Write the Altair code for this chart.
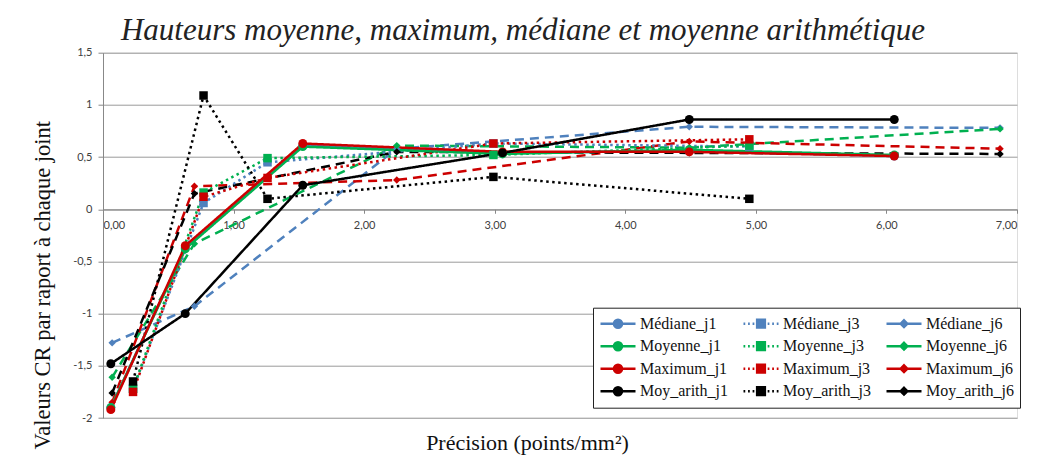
import altair as alt
import pandas as pd

# ---------------- data ----------------
MEASURES = ["Médiane", "Moyenne", "Maximum", "Moy_arith"]
DAYS = ["j1", "j3", "j6"]

X_J1 = [0.06, 0.63, 1.53, 3.06, 4.49, 6.06]
X_J3 = [0.23, 0.77, 1.26, 2.99, 4.95]
X_J6 = [0.07, 0.70, 2.25, 4.49, 6.87]

MEDIANE_J1 = [-1.90, -0.37, 0.61, 0.54, 0.56, 0.51]
MOYENNE_J1 = [-1.90, -0.38, 0.60, 0.53, 0.57, 0.52]
MAXIMUM_J1 = [-1.92, -0.35, 0.63, 0.55, 0.55, 0.51]
MOYARITH_J1 = [-1.48, -1.00, 0.23, 0.54, 0.86, 0.86]

MEDIANE_J3 = [-1.72, 0.06, 0.45, 0.63, 0.60]
MOYENNE_J3 = [-1.72, 0.16, 0.49, 0.52, 0.61]
MAXIMUM_J3 = [-1.75, 0.12, 0.30, 0.63, 0.67]
MOYARITH_J3 = [-1.65, 1.09, 0.10, 0.31, 0.10]

MEDIANE_J6 = [-1.28, -0.93, 0.58, 0.79, 0.78]
MOYENNE_J6 = [-1.61, -0.33, 0.61, 0.59, 0.77]
MAXIMUM_J6 = [-1.85, 0.22, 0.28, 0.65, 0.58]
MOYARITH_J6 = [-1.76, 0.15, 0.55, 0.54, 0.53]

COLORS = ["#4F81BD", "#00B050", "#CC0000", "#000000"]

# drawing order: j6 first, j1 last (on top)
SERIES = [
    ("Médiane", "j6", X_J6, MEDIANE_J6),
    ("Moyenne", "j6", X_J6, MOYENNE_J6),
    ("Maximum", "j6", X_J6, MAXIMUM_J6),
    ("Moy_arith", "j6", X_J6, MOYARITH_J6),
    ("Médiane", "j3", X_J3, MEDIANE_J3),
    ("Moyenne", "j3", X_J3, MOYENNE_J3),
    ("Maximum", "j3", X_J3, MAXIMUM_J3),
    ("Moy_arith", "j3", X_J3, MOYARITH_J3),
    ("Médiane", "j1", X_J1, MEDIANE_J1),
    ("Moyenne", "j1", X_J1, MOYENNE_J1),
    ("Maximum", "j1", X_J1, MAXIMUM_J1),
    ("Moy_arith", "j1", X_J1, MOYARITH_J1),
]

rows = []
for m, d, xs, ys in SERIES:
    for xv, yv in zip(xs, ys):
        rows.append({"measure": m, "day": d, "series": f"{m}_{d}", "x": xv, "y": yv})
df = pd.DataFrame(rows)

# legend is filled column by column: column 1 = j1, column 2 = j3, column 3 = j6
LEGEND_ORDER = [f"{m}_{d}" for d in DAYS for m in MEASURES]
LEGEND_COLORS = [COLORS[MEASURES.index(s.rsplit("_", 1)[0])] for s in LEGEND_ORDER]

LINE_SOLID = "M-1,0L1,0"
LINE_DOTTED = "M-1,0L-0.9,0M-0.74,0L-0.64,0M-0.48,0L-0.38,0M0.38,0L0.48,0M0.64,0L0.74,0M0.9,0L1,0"
PATH_CIRCLE = LINE_SOLID + "M-0.23,0A0.23,0.23 0 1,1 0.23,0A0.23,0.23 0 1,1 -0.23,0Z"
PATH_SQUARE = LINE_DOTTED + "M-0.22,-0.22L0.22,-0.22L0.22,0.22L-0.22,0.22Z"
PATH_DIAMOND = LINE_SOLID + "M0,-0.19L0.19,0L0,0.19L-0.19,0Z"
LEGEND_SHAPES = [{"j1": PATH_CIRCLE, "j3": PATH_SQUARE, "j6": PATH_DIAMOND}[s[-2:]] for s in LEGEND_ORDER]

W = 914
H = 365.3
ZERO_OFFSET = -H * 2.0 / 3.5

SERIF = "Liberation Serif"
TICKFONT = "Lato"

x_enc = alt.X(
    "x:Q",
    scale=alt.Scale(domain=[0, 7], nice=False, zero=False),
    axis=alt.Axis(
        values=[0, 1, 2, 3, 4, 5, 6, 7],
        labelExpr="replace(format(datum.value, '.2f'), '.', ',')",
        offset=ZERO_OFFSET,
        grid=False,
        domainColor="#888888",
        tickColor="#888888",
        tickSize=4,
        labelPadding=6,
        labelFont=TICKFONT,
        labelFontSize=11,
        labelColor="#404040",
        title="Précision (points/mm²)",
        titleFont=SERIF,
        titleFontSize=22,
        titleFontWeight="normal",
        titleColor="#111111",
        titleX=424,
        titleY=240,
        titleBaseline="alphabetic",
        titleAlign="center",
    ),
)
y_enc = alt.Y(
    "y:Q",
    scale=alt.Scale(domain=[-2, 1.5], nice=False, zero=False),
    axis=alt.Axis(
        values=[-2, -1.5, -1, -0.5, 0, 0.5, 1, 1.5],
        labelExpr="replace(toString(datum.value), '.', ',')",
        grid=True,
        gridColor="#9a9a9a",
        gridWidth=1,
        domainColor="#888888",
        tickColor="#888888",
        tickSize=5,
        labelPadding=6,
        labelFont=TICKFONT,
        labelFontSize=11,
        labelColor="#404040",
        title="Valeurs CR par raport à chaque joint",
        titleFont=SERIF,
        titleFontSize=22.5,
        titleFontWeight="normal",
        titleColor="#111111",
        titleAngle=270,
        titleX=-54,
        titleY=232,
        titleBaseline="alphabetic",
        titleAlign="center",
    ),
)

lines = alt.Chart(df).mark_line(strokeWidth=2.5).encode(
    x=x_enc,
    y=y_enc,
    color=alt.Color("measure:N", scale=alt.Scale(domain=MEASURES, range=COLORS), legend=None),
    strokeDash=alt.StrokeDash(
        "day:N",
        scale=alt.Scale(domain=DAYS, range=[[1, 0], [2.5, 3.5], [9, 6]]),
        legend=None,
    ),
    detail="series:N",
)

def pts(day, shape, size):
    return alt.Chart(df).transform_filter(alt.datum.day == day).mark_point(
        filled=True, shape=shape, size=size, opacity=1
    ).encode(
        x="x:Q",
        y="y:Q",
        color=alt.Color("measure:N", scale=alt.Scale(domain=MEASURES, range=COLORS), legend=None),
    )

pts1 = pts("j1", "circle", 80)
pts3 = pts("j3", "square", 72)
pts6 = pts("j6", "diamond", 55)

leg = alt.Legend(
    orient="none",
    legendX=490,
    legendY=255,
    columns=3,
    title=None,
    labelFont=SERIF,
    labelFontSize=16,
    labelColor="#111111",
    symbolSize=1225,
    symbolStrokeWidth=2.5,
    symbolOpacity=1,
    labelOffset=3,
    columnPadding=14,
    rowPadding=2.5,
    clipHeight=20,
    padding=6,
    strokeColor="#222222",
    fillColor="white",
)

legend_layer = alt.Chart(df).transform_filter("false").mark_point(
    filled=True, size=1225, strokeWidth=2.5, opacity=1
).encode(
    x="x:Q",
    y="y:Q",
    fill=alt.Fill("series:N", scale=alt.Scale(domain=LEGEND_ORDER, range=LEGEND_COLORS), legend=leg),
    stroke=alt.Stroke("series:N", scale=alt.Scale(domain=LEGEND_ORDER, range=LEGEND_COLORS), legend=leg),
    shape=alt.Shape("series:N", scale=alt.Scale(domain=LEGEND_ORDER, range=LEGEND_SHAPES), legend=leg),
)

chart = alt.layer(lines, pts6, pts3, pts1, legend_layer).properties(
    width=W,
    height=H,
    padding={"left": 95, "top": 44.7, "right": 10, "bottom": 40},
    autosize=alt.AutoSizeParams(type="none"),
    title=alt.TitleParams(
        "Hauteurs moyenne, maximum, médiane et moyenne arithmétique",
        font=SERIF,
        fontSize=31,
        fontStyle="italic",
        fontWeight="normal",
        color="#222222",
        anchor="middle",
        dx=-37,
        dy=37,
        offset=13,
        baseline="alphabetic",
    ),
).configure_view(stroke=None).configure_legend(
    labelFont=SERIF,
    labelFontSize=16,
    labelColor="#111111",
    symbolOpacity=1,
).configure(background="white")

chart.save("out.html", embed_options={"renderer": "svg", "actions": False})
